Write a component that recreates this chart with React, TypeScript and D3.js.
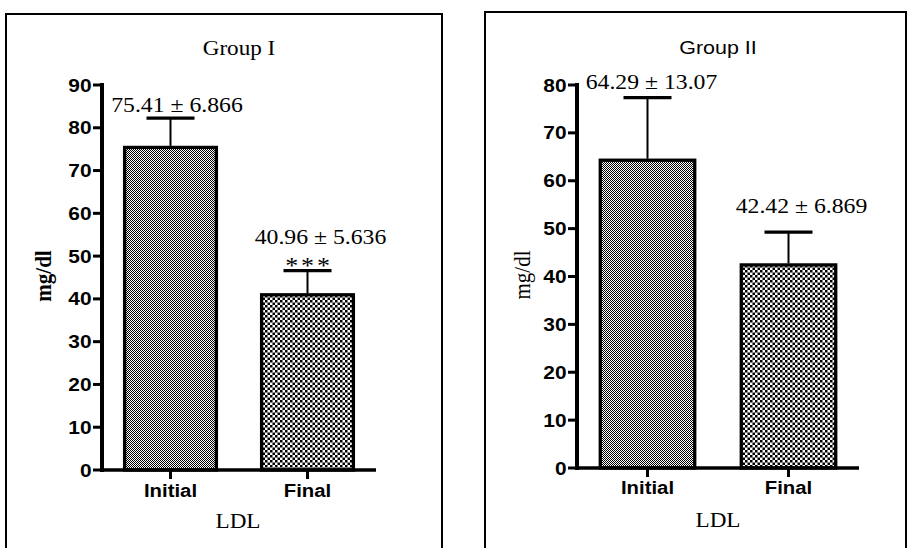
import React from "react";
import * as d3 from "d3";

// LDL (mg/dl), mean ± SEM, before and after treatment
const categories = ["Initial", "Final"];
const groupIMeans = [75.41, 40.96];
const groupISem = [6.866, 5.636];
const groupIIMeans = [64.29, 42.42];
const groupIISem = [13.07, 6.869];
const groupITicks = [0, 10, 20, 30, 40, 50, 60, 70, 80, 90];
const groupIITicks = [0, 10, 20, 30, 40, 50, 60, 70, 80];
const groupISignificance = ["", "***"];

const SERIF = "'Liberation Serif', 'Times New Roman', serif";
const SANS = "'Liberation Sans', Arial, sans-serif";
const STRETCH = 1.13;

type PanelProps = {
  id: string;
  frame: { x: number; y: number; w: number; h: number };
  means: number[];
  sems: number[];
  ticks: number[];
  yMax: number;
  xRange: [number, number];
  yRange: [number, number];
  title: string;
  titleFont: string;
  titlePos: [number, number];
  titleSize: number;
  yLabelBold: boolean;
  yLabelPos: [number, number];
  yLabelSize: number;
  xTitlePos: [number, number];
  labelBaseline: number;
  valueOffsets: [number, number][];
  marks?: string[];
  markOffsets?: [number, number][];
};

function StretchText({
  x,
  y,
  children,
  size,
  family,
  weight = "normal",
  anchor = "middle",
  spacing,
}: any) {
  return (
    <text
      transform={`translate(${x},${y}) scale(${STRETCH},1)`}
      fontFamily={family}
      fontSize={size}
      fontWeight={weight}
      textAnchor={anchor}
      letterSpacing={spacing}
      fill="#000"
    >
      {children}
    </text>
  );
}

function Panel(p: PanelProps) {
  const y = d3.scaleLinear().domain([0, p.yMax]).range(p.yRange);
  const x = d3
    .scaleBand<string>()
    .domain(categories)
    .range(p.xRange)
    .paddingInner(0.33)
    .paddingOuter(0.165);
  const axisX = p.xRange[0];
  const baseY = y(0);
  const capHalf = 24;
  const fills = [`url(#${p.id}-fine)`, `url(#${p.id}-coarse)`];

  return (
    <g>
      <defs>
        <pattern id={`${p.id}-fine`} width={2} height={2} patternUnits="userSpaceOnUse">
          <rect width={2} height={2} fill="#fff" />
          <rect x={0} y={0} width={1} height={1} fill="#000" />
          <rect x={1} y={1} width={1} height={1} fill="#000" />
        </pattern>
        <pattern id={`${p.id}-coarse`} width={5} height={5} patternUnits="userSpaceOnUse">
          <rect width={5} height={5} fill="#fff" />
          <rect x={0} y={0} width={2.5} height={2.5} fill="#000" />
          <rect x={2.5} y={2.5} width={2.5} height={2.5} fill="#000" />
        </pattern>
      </defs>

      {/* panel frame, open at the bottom edge of the page */}
      <rect
        x={p.frame.x}
        y={p.frame.y}
        width={p.frame.w}
        height={p.frame.h}
        fill="none"
        stroke="#000"
        strokeWidth={2}
      />

      <StretchText x={p.titlePos[0]} y={p.titlePos[1]} size={p.titleSize} family={p.titleFont}>
        {p.title}
      </StretchText>

      {/* bars */}
      {categories.map((c, i) => (
        <rect
          key={c}
          x={x(c)}
          y={y(p.means[i])}
          width={x.bandwidth()}
          height={baseY - y(p.means[i])}
          fill={fills[i]}
          stroke="#000"
          strokeWidth={3.3}
        />
      ))}

      {/* error bars (upper SEM) */}
      {categories.map((c, i) => {
        const cx = (x(c) as number) + x.bandwidth() / 2;
        const top = y(p.means[i] + p.sems[i]);
        return (
          <g key={`e-${c}`}>
            <line x1={cx} x2={cx} y1={y(p.means[i]) - 1.5} y2={top} stroke="#000" strokeWidth={2} />
            <line x1={cx - capHalf} x2={cx + capHalf} y1={top} y2={top} stroke="#000" strokeWidth={3.2} />
          </g>
        );
      })}

      {/* value labels */}
      {categories.map((c, i) => {
        const cx = (x(c) as number) + x.bandwidth() / 2;
        const [dx, dy] = p.valueOffsets[i];
        return (
          <StretchText
            key={`v-${c}`}
            x={cx + dx}
            y={y(p.means[i] + p.sems[i]) + dy}
            size={21}
            family={SERIF}
          >
            {`${p.means[i].toFixed(2)} ± ${p.sems[i]}`}
          </StretchText>
        );
      })}

      {p.marks &&
        categories.map((c, i) =>
          p.marks![i] ? (
            <StretchText
              key={`m-${c}`}
              x={(x(c) as number) + x.bandwidth() / 2 + p.markOffsets![i][0]}
              y={y(p.means[i] + p.sems[i]) + p.markOffsets![i][1]}
              size={23}
              family={SERIF}
              spacing={2.5}
            >
              {p.marks![i]}
            </StretchText>
          ) : null
        )}

      {/* y axis */}
      <line x1={axisX} x2={axisX} y1={y(p.yMax) - 2} y2={baseY + 2} stroke="#000" strokeWidth={4} />
      {p.ticks.map((t) => (
        <g key={`t-${t}`}>
          <line x1={axisX - 9} x2={axisX} y1={y(t)} y2={y(t)} stroke="#000" strokeWidth={3} />
          <StretchText
            x={axisX - 10.5}
            y={y(t) + 6.5}
            size={18.5}
            family={SANS}
            weight="bold"
            anchor="end"
          >
            {t}
          </StretchText>
        </g>
      ))}

      {/* x axis */}
      <line x1={axisX} x2={p.xRange[1]} y1={baseY} y2={baseY} stroke="#000" strokeWidth={3.5} />
      {categories.map((c) => {
        const cx = (x(c) as number) + x.bandwidth() / 2;
        return (
          <g key={`x-${c}`}>
            <line x1={cx} x2={cx} y1={baseY} y2={baseY + 9} stroke="#000" strokeWidth={3} />
            <StretchText x={cx} y={p.labelBaseline} size={18} family={SANS} weight="bold">
              {c}
            </StretchText>
          </g>
        );
      })}

      <StretchText x={p.xTitlePos[0]} y={p.xTitlePos[1]} size={20.5} family={SERIF}>
        LDL
      </StretchText>

      <text
        transform={`translate(${p.yLabelPos[0]},${p.yLabelPos[1]}) rotate(-90) scale(1,${STRETCH})`}
        fontFamily={SERIF}
        fontSize={p.yLabelSize}
        fontWeight={p.yLabelBold ? "bold" : "normal"}
        textAnchor="middle"
        dominantBaseline="central"
        fill="#000"
      >
        mg/dl
      </text>
    </g>
  );
}

export default function App() {
  return (
    <svg width={911} height={548} style={{ position: "absolute", left: 0, top: 0, background: "#fff" }}>
      <rect width={911} height={548} fill="#fff" />
      <Panel
        id="g1"
        frame={{ x: 6, y: 14, w: 436, h: 560 }}
        means={groupIMeans}
        sems={groupISem}
        ticks={groupITicks}
        yMax={90}
        xRange={[102, 376]}
        yRange={[470, 85]}
        title="Group I"
        titleFont={SERIF}
        titleSize={20.5}
        titlePos={[239, 55]}
        yLabelBold={true}
        yLabelPos={[43, 276]}
        yLabelSize={21}
        xTitlePos={[238, 528]}
        labelBaseline={497}
        valueOffsets={[
          [6.5, -6.5],
          [13, -27],
        ]}
        marks={groupISignificance}
        markOffsets={[
          [0, 0],
          [1.5, 2],
        ]}
      />
      <Panel
        id="g2"
        frame={{ x: 485, y: 12, w: 421, h: 560 }}
        means={groupIIMeans}
        sems={groupIISem}
        ticks={groupIITicks}
        yMax={80}
        xRange={[577, 859]}
        yRange={[468, 85]}
        title="Group II"
        titleFont={SANS}
        titleSize={19}
        titlePos={[718, 54]}
        yLabelBold={false}
        yLabelPos={[522, 275]}
        yLabelSize={21}
        xTitlePos={[718, 527]}
        labelBaseline={494}
        valueOffsets={[
          [4, -9],
          [13, -19],
        ]}
      />
    </svg>
  );
}
